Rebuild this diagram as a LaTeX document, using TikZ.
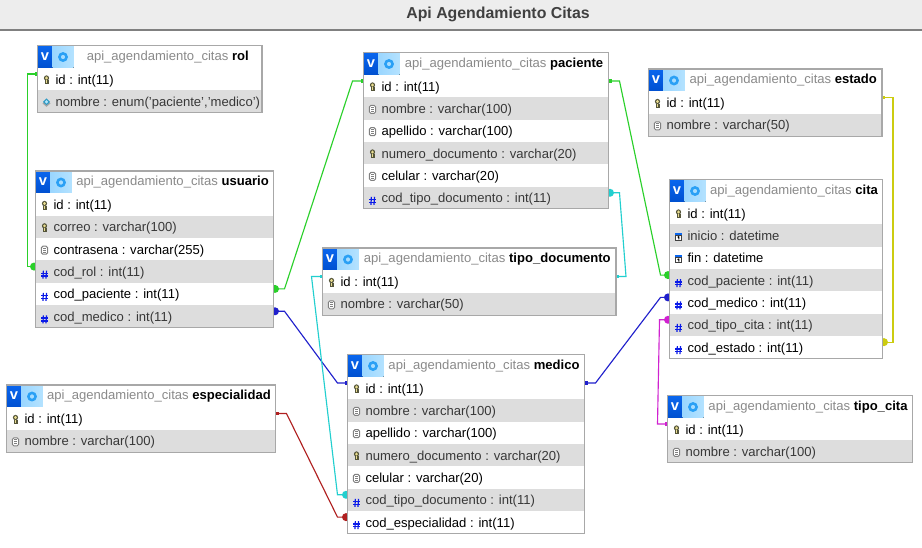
\documentclass[tikz,border=0pt]{standalone}
\usepackage{fontspec}
\setmainfont{Liberation Sans}
\usetikzlibrary{calc,backgrounds}
\definecolor{rowgrey}{HTML}{DDDDDD}
\definecolor{framegrey}{HTML}{A8A8A8}
\definecolor{headgrey}{HTML}{8A8A8A}
\definecolor{relgreen}{HTML}{2AD02A}
\definecolor{relblue}{HTML}{2020CC}
\definecolor{relcyan}{HTML}{22CFCF}
\definecolor{relyellow}{HTML}{CCCC10}
\definecolor{relmagenta}{HTML}{D022D0}
\definecolor{relred}{HTML}{B02020}
\definecolor{iconblue}{HTML}{0A66EE}
\definecolor{icondeep}{HTML}{0050D0}
\definecolor{iconpale}{HTML}{9AD6FF}
\definecolor{iconpaler}{HTML}{B4E2FF}
\definecolor{gearblue}{HTML}{2AA0F5}
\definecolor{keyfill}{HTML}{E8DC90}
\definecolor{keyink}{HTML}{55553A}
\definecolor{hashblue}{HTML}{0A1AE8}
\tikzset{
  rowbox/.style={inner sep=0pt,outer sep=0pt,anchor=north west,minimum height=22.35*0.75pt},
  rowtext/.style={inner sep=0pt,outer sep=0pt,anchor=base west,font=\fontsize{9.8pt}{12pt}\selectfont},
  headtext/.style={inner sep=0pt,outer sep=0pt,anchor=center,font=\fontsize{9.8pt}{12pt}\selectfont,text=headgrey},
  frameline/.style={draw=framegrey,line width=0.8pt},
  relline/.style={line width=0.85pt},
}
\def\rowh{22.35}
% row icons, drawn round the origin of a scope
\newcommand\ickey{%
  \fill[keyink] (0,-1) ellipse (2.6 and 2.7);
  \fill[keyfill] (0,-1) ellipse (1.5 and 1.6);
  \fill[keyink] (-2,1) rectangle (2,5.2);
  \fill[keyfill] (-0.9,1.4) rectangle (0.9,4.2);
}
\newcommand\iclist{%
  \draw[black!50,fill=white,line width=0.75pt,rounded corners=1.2] (-3.2,-3) rectangle (3.2,5);
  \draw[black!50,line width=0.6pt] (-1.6,-1) -- (1.6,-1) (-1.6,1) -- (1.6,1) (-1.6,3) -- (1.6,3);
}
\newcommand\ichash{%
  \draw[hashblue,line width=0.9pt] (-1.1,-1) -- (-1.6,7) (2,-1) -- (1.5,7);
  \draw[hashblue,line width=1.1pt] (-3.2,1.7) -- (3.4,1.7) (-3.4,4.5) -- (3.2,4.5);
}
\newcommand\iccal{%
  \fill[iconblue] (-3.3,-2.5) rectangle (3.3,0);
  \draw[black!75,fill=white,line width=0.7pt] (-3.3,0) rectangle (3.3,5);
  \draw[black,line width=0.8pt] (0.3,1) -- (0.3,4) (-0.8,2) -- (0.3,1);
}
\newcommand\icdiamond{%
  \fill[black!35] (0,-1.5) -- (4,2) -- (0,5.5) -- (-4,2) -- cycle;
  \fill[cyan!55!teal] (0,-3) -- (3.5,0.5) -- (0,3.8) -- (-3.5,0.5) -- cycle;
  \fill[white!70!cyan] (0,-1.4) -- (1.6,0.5) -- (0,2.2) -- (-1.6,0.5) -- cycle;
}
% name, x, y, width, number of rows, table name, rows
\newcommand\dbtable[7]{%
  \node[rowbox,fill=white,minimum width={#4*0.75pt}] (#1-0) at (#2,#3) {};
  \fill[top color=iconblue,bottom color=icondeep] (#2,#3) rectangle ++(15,\rowh);
  \fill[left color=iconpale,right color=iconpaler] ({#2+15},#3) rectangle ++(21,\rowh);
  \node[inner sep=0pt,text=white,font=\fontsize{11pt}{12pt}\bfseries\selectfont] (#1-v) at ({#2+7.5},{#3+11}) {v};
  \draw[gearblue,line width=1.9pt] ({#2+25.5},{#3+11.5}) circle (3.6);
  \node[headtext] (#1-t) at ({#2+36+(#4-36)/2},{#3+11.5}) {api\_agendamiento\_citas \textcolor{black}{\bfseries #6}};
  \foreach \ic/\txt [count=\i] in {#7} {
    \ifodd\i\def\rowfill{white}\def\rowink{black}\else\def\rowfill{rowgrey}\def\rowink{black!78}\fi
    \node[rowbox,fill=\rowfill,minimum width={#4*0.75pt}] (#1-\i) at (#2,{#3+\i*\rowh}) {};
    \coordinate (#1-\i-l) at ($(#1-\i.west)+(0,-5)$);
    \coordinate (#1-\i-r) at ($(#1-\i.east)+(0,-5)$);
    \node[rowtext,text=\rowink] (#1-\i-t) at ($(#1-\i.west)+(18,5)$) {\txt};
    \begin{scope}[shift={($(#1-\i.west)+(9,0)$)}]
      \csname ic\ic\endcsname
    \end{scope}
  }
  \draw[frameline] (#2,#3) rectangle ({#2+#4},{#3+(#5+1)*\rowh});
}
% colour, referenced end, its stub, foreign-key end, its stub
\newcommand\relation[5]{%
  \begin{pgfonlayer}{background}
    \draw[relline,draw=#1] (#2) -- ($(#2)+(#3,0)$) -- ($(#4)+(#5,0)$) -- (#4);
    \fill[#1] ($(#2)+({#3/abs(#3)*(-1)},-1.7)$) rectangle ($(#2)+({#3/abs(#3)*3},1.7)$);
    \fill[#1] (#4) ++({#5/abs(#5)*1.5},0) circle (4);
  \end{pgfonlayer}
}
\begin{document}
\begin{tikzpicture}[x=0.75pt,y=-0.75pt]
\useasboundingbox (0,0) rectangle (922,547);
\begin{pgfonlayer}{background}
  \fill[white] (0,0) rectangle (922,547);
\end{pgfonlayer}
\node[inner sep=0pt,outer sep=0pt,anchor=north west,fill=black!7,minimum width=922*0.75pt,minimum height=30*0.75pt] (titlebar) at (0,0) {};
\draw[black!50,line width=0.8pt] (titlebar.south west) -- (titlebar.south east);
\node[inner sep=0pt,text=black!75,font=\fontsize{11.9pt}{14pt}\bfseries\selectfont] (title) at (498,14) {Api Agendamiento Citas};

\dbtable{rol}{37.5}{45.5}{224.5}{2}{rol}{key/{id : int(11)},diamond/{nombre : enum('paciente','medico')}}
\dbtable{usuario}{35.5}{171}{238}{6}{usuario}{key/{id : int(11)},key/{correo : varchar(100)},list/{contrasena : varchar(255)},hash/{cod\_rol : int(11)},hash/{cod\_paciente : int(11)},hash/{cod\_medico : int(11)}}
\dbtable{paciente}{363.5}{52.5}{245}{6}{paciente}{key/{id : int(11)},list/{nombre : varchar(100)},list/{apellido : varchar(100)},key/{numero\_documento : varchar(20)},list/{celular : varchar(20)},hash/{cod\_tipo\_documento : int(11)}}
\dbtable{estado}{648.5}{69}{233.5}{2}{estado}{key/{id : int(11)},list/{nombre : varchar(50)}}
\dbtable{cita}{669.5}{179.5}{213}{7}{cita}{key/{id : int(11)},cal/{inicio : datetime},cal/{fin : datetime},hash/{cod\_paciente : int(11)},hash/{cod\_medico : int(11)},hash/{cod\_tipo\_cita : int(11)},hash/{cod\_estado : int(11)}}
\dbtable{tipodoc}{322.5}{248}{293.5}{2}{tipo\_documento}{key/{id : int(11)},list/{nombre : varchar(50)}}
\dbtable{medico}{347.5}{354.5}{237}{7}{medico}{key/{id : int(11)},list/{nombre : varchar(100)},list/{apellido : varchar(100)},key/{numero\_documento : varchar(20)},list/{celular : varchar(20)},hash/{cod\_tipo\_documento : int(11)},hash/{cod\_especialidad : int(11)}}
\dbtable{especialidad}{6.5}{385}{269}{2}{especialidad}{key/{id : int(11)},list/{nombre : varchar(100)}}
\dbtable{tipocita}{667.5}{395.5}{245}{2}{tipo\_cita}{key/{id : int(11)},list/{nombre : varchar(100)}}

\relation{relgreen}{rol-1-l}{-10}{usuario-4-l}{-8}
\relation{relgreen}{paciente-1-l}{-11}{usuario-5-r}{11}
\relation{relblue}{medico-1-l}{-10}{usuario-6-r}{11}
\relation{relcyan}{tipodoc-1-r}{10}{paciente-6-r}{11}
\relation{relcyan}{tipodoc-1-l}{-11}{medico-6-l}{-10}
\relation{relgreen}{paciente-1-r}{11}{cita-4-l}{-9}
\relation{relblue}{medico-1-r}{11}{cita-5-l}{-9}
\relation{relyellow}{estado-1-r}{11}{cita-7-r}{10.5}
\relation{relmagenta}{tipocita-1-l}{-10}{cita-6-l}{-10}
\relation{relred}{especialidad-1-r}{11}{medico-7-l}{-10}
\end{tikzpicture}
\end{document}
